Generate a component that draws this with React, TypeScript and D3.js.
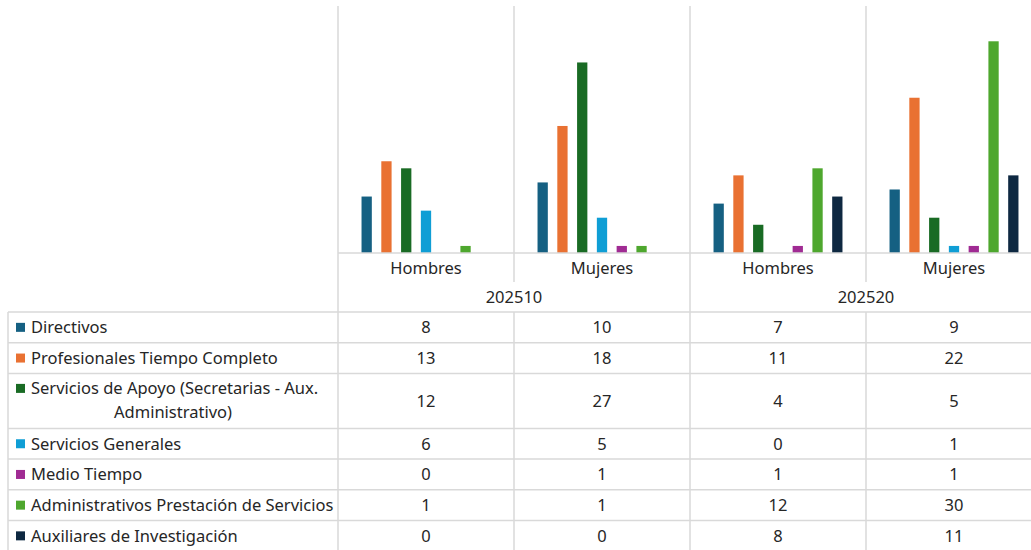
import * as d3 from "d3";

const periods = ["202510", "202520"];
const genders = ["Hombres", "Mujeres"];
const categories = ["202510|Hombres", "202510|Mujeres", "202520|Hombres", "202520|Mujeres"];

const seriesNames = [
  "Directivos",
  "Profesionales Tiempo Completo",
  "Servicios de Apoyo (Secretarias - Aux. Administrativo)",
  "Servicios Generales",
  "Medio Tiempo",
  "Administrativos Prestación de Servicios",
  "Auxiliares de Investigación",
];

const directivos = [8, 10, 7, 9];
const profesionales = [13, 18, 11, 22];
const serviciosApoyo = [12, 27, 4, 5];
const serviciosGenerales = [6, 5, 0, 1];
const medioTiempo = [0, 1, 1, 1];
const prestacionServicios = [1, 1, 12, 30];
const auxiliares = [0, 0, 8, 11];

const seriesValues = [
  directivos,
  profesionales,
  serviciosApoyo,
  serviciosGenerales,
  medioTiempo,
  prestacionServicios,
  auxiliares,
];

const colors = ["#156082", "#E97132", "#196B24", "#0F9ED5", "#A02B93", "#4EA72E", "#0E2841"];

const W = 1031;
const H = 550;
const plotLeft = 338;
const plotRight = 1042; // the chart runs past the picture edge
const plotTop = 6;
const baseline = 253;
const tableLeft = 8;
const tableTop = 312;
const grid = "#D9D9D9";
const textColor = "#262626";
const font = "'Noto Sans', 'Liberation Sans', sans-serif";
const fs = 16.5;

export default function App() {
  const x0 = d3.scaleBand().domain(categories).range([plotLeft, plotRight]);
  const x1 = d3
    .scaleBand()
    .domain(seriesNames)
    .range([0, x0.bandwidth()])
    .paddingInner(0.48)
    .paddingOuter(1.19);
  const y = d3.scaleLinear().domain([0, 35]).range([baseline, plotTop]);

  const periodX = d3.scaleBand().domain(periods).range([plotLeft, plotRight]);

  // table rows
  const rowH = seriesNames.map((_, i) => (i === 2 ? 55 : 30.7));
  const rowTops: number[] = [];
  let acc = tableTop;
  rowH.forEach((h) => {
    rowTops.push(acc);
    acc += h;
  });
  const tableBottom = acc;

  const colEdges = categories.map((c) => x0(c)!);

  return (
    <svg
      width={W}
      height={H}
      style={{ position: "absolute", left: 0, top: 0, background: "#fff" }}
      fontFamily={font}
    >
      {/* bars */}
      {seriesNames.map((s, si) => (
        <g key={s}>
          {categories.map((c, ci) => {
            const v = seriesValues[si][ci];
            if (v === 0) return null;
            return (
              <rect
                key={c}
                x={x0(c)! + x1(s)!}
                y={y(v)}
                width={x1.bandwidth()}
                height={baseline - y(v)}
                fill={colors[si]}
              />
            );
          })}
        </g>
      ))}

      {/* vertical grid lines */}
      {categories.map((c, ci) => {
        const xv = x0(c)!;
        const full = ci % 2 === 0;
        return (
          <line
            key={c}
            x1={xv}
            x2={xv}
            y1={plotTop}
            y2={full ? tableBottom : 282}
            stroke={grid}
            strokeWidth={1.5}
          />
        );
      })}
      {categories.map((c, ci) =>
        ci % 2 === 1 ? (
          <line
            key={"t" + c}
            x1={x0(c)!}
            x2={x0(c)!}
            y1={tableTop}
            y2={tableBottom}
            stroke={grid}
            strokeWidth={1.5}
          />
        ) : null
      )}
      <line x1={plotLeft} x2={W} y1={baseline} y2={baseline} stroke={grid} strokeWidth={1.5} />

      {/* category labels */}
      {categories.map((c, ci) => (
        <text
          key={c}
          x={x0(c)! + x0.bandwidth() / 2}
          y={268}
          dy="0.35em"
          textAnchor="middle"
          fontSize={fs}
          fill={textColor}
        >
          {genders[ci % 2]}
        </text>
      ))}
      {periods.map((p) => (
        <text
          key={p}
          x={periodX(p)! + periodX.bandwidth() / 2}
          y={297}
          dy="0.35em"
          textAnchor="middle"
          fontSize={fs}
          fill={textColor}
        >
          {p}
        </text>
      ))}

      {/* data table */}
      <line x1={tableLeft} x2={tableLeft} y1={tableTop} y2={tableBottom} stroke={grid} strokeWidth={1.5} />
      {rowTops.map((t, i) => (
        <line key={i} x1={tableLeft} x2={W} y1={t} y2={t} stroke={grid} strokeWidth={1.5} />
      ))}
      <line x1={tableLeft} x2={W} y1={tableBottom} y2={tableBottom} stroke={grid} strokeWidth={1.5} />

      {seriesNames.map((s, si) => {
        const t = rowTops[si];
        const mid = t + rowH[si] / 2;
        const twoLine = si === 2;
        const firstY = twoLine ? t + 15 : mid;
        return (
          <g key={s}>
            <rect x={16} y={firstY - 4.5} width={9} height={9} fill={colors[si]} />
            {twoLine ? (
              <>
                <text x={31} y={firstY} dy="0.35em" fontSize={fs} fill={textColor}>
                  Servicios de Apoyo (Secretarias - Aux.
                </text>
                <text x={(tableLeft + plotLeft) / 2} y={t + 39} dy="0.35em" textAnchor="middle" fontSize={fs} fill={textColor}>
                  Administrativo)
                </text>
              </>
            ) : (
              <text x={31} y={firstY} dy="0.35em" fontSize={fs} fill={textColor}>
                {s}
              </text>
            )}
            {categories.map((c, ci) => (
              <text
                key={c}
                x={colEdges[ci] + x0.bandwidth() / 2}
                y={mid}
                dy="0.35em"
                textAnchor="middle"
                fontSize={fs}
                fill={textColor}
              >
                {seriesValues[si][ci]}
              </text>
            ))}
          </g>
        );
      })}
    </svg>
  );
}
